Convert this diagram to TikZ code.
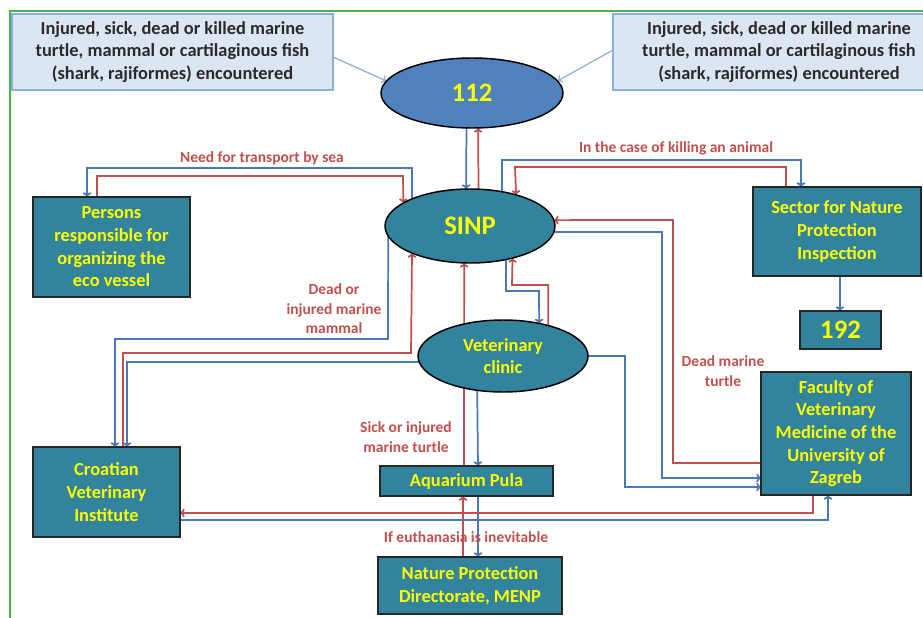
\documentclass[tikz,border=0pt]{standalone}
\usepackage{fontspec}
\setmainfont{Carlito}
\usetikzlibrary{arrows.meta,calc,shapes.geometric,backgrounds}
\definecolor{tbFill}{HTML}{DCE6F2}
\definecolor{tbBorder}{HTML}{8EAEDB}
\definecolor{tbText}{HTML}{2A2A2A}
\definecolor{tealA}{HTML}{31849B}
\definecolor{blueA}{HTML}{4F81BD}
\definecolor{yel}{HTML}{FFFF00}
\definecolor{lineB}{HTML}{4A78B8}
\definecolor{lineR}{HTML}{C0504D}
\definecolor{lightB}{HTML}{95B3D7}
\definecolor{grn}{HTML}{45B54A}
\tikzset{
  every node/.style={inner sep=0pt, outer sep=0pt},
  wh/.style 2 args={minimum width={#1*0.75pt}, minimum height={#2*0.75pt}},
  topbox/.style={rectangle, draw=tbBorder, fill=tbFill, line width=1.2pt, text=tbText,
    font=\bfseries\fontsize{13.8}{16.9}\selectfont, align=center},
  tealbox/.style={rectangle, draw=black!85, fill=tealA, line width=1.1pt, text=yel,
    font=\bfseries\fontsize{13.8}{17}\selectfont, align=center},
  ell/.style={ellipse, draw=black, line width=1.1pt, text=yel, align=center},
  lab/.style={text=lineR, font=\bfseries\fontsize{11.6}{14.6}\selectfont, align=center},
  tipA/.style={-{To[length=3.5pt,width=6.5pt]}},
  blueln/.style={draw=lineB, line width=1.3pt, tipA},
  redln/.style={draw=lineR, line width=1.3pt, tipA},
  lightln/.style={draw=lightB, line width=1pt, tipA},
}
\begin{document}
\begin{tikzpicture}[x=0.75pt,y=-0.75pt]
\useasboundingbox (0,0) rectangle (923,617);
% nodes
\node[topbox, wh={321}{76}] (boxL) at (172.5,52) {Injured, sick, dead or killed marine\\turtle, mammal or cartilaginous fish\\(shark, rajiformes) encountered};
\node[topbox, wh={332}{76}] (boxR) at (779,52) {Injured, sick, dead or killed marine\\turtle, mammal or cartilaginous fish\\(shark, rajiformes) encountered};
\node[ell, fill=blueA, wh={182}{70}, font=\bfseries\fontsize{20}{22}\selectfont] (i112) at (472,93) {112};
\node[ell, fill=tealA, wh={170}{74}, font=\bfseries\fontsize{20}{22}\selectfont] (sinp) at (470,226) {SINP};
\node[ell, fill=tealA, wh={170}{72}, font=\bfseries\fontsize{13.8}{16.5}\selectfont] (vet) at (503,356) {Veterinary\\clinic};
\node[tealbox, wh={157}{100}] (persons) at (111.5,247) {Persons\\responsible for\\organizing the\\eco vessel};
\node[tealbox, wh={168}{89}] (sector) at (837,231.5) {Sector for Nature\\Protection\\Inspection};
\node[tealbox, wh={81}{38}, font=\bfseries\fontsize{20}{22}\selectfont] (n192) at (840.5,330) {192};
\node[tealbox, wh={150}{123}] (faculty) at (836,433.5) {Faculty of\\Veterinary\\Medicine of the\\University of\\Zagreb};
\node[tealbox, wh={147}{90}] (cvi) at (106.5,492) {Croatian\\Veterinary\\Institute};
\node[tealbox, wh={173}{30}] (aq) at (466.5,481) {Aquarium Pula};
\node[tealbox, wh={184}{57}] (npd) at (470,585.5) {Nature Protection\\Directorate, MENP};
% labels
\node[lab] (l1) at (262,158) {Need for transport by sea};
\node[lab] (l2) at (676,148) {In the case of killing an animal};
\node[lab] (l3) at (334,309) {Dead or\\injured marine\\mammal};
\node[lab] (l4) at (723,371) {Dead marine\\turtle};
\node[lab] (l5) at (406,437) {Sick or injured\\marine turtle};
\node[lab] (l6) at (466,537) {If euthanasia is inevitable};
\begin{pgfonlayer}{background}
\fill[white] (0,0) rectangle (923,617);
\draw[grn, line width=1.8pt] (10,620) -- (10,11) -- (926,11);
% top arrows
\draw[lightln] ($(boxL.east)+(0,5)$) -- (i112.172);
\draw[lightln] ($(boxR.west)+(0,-2)$) -- (i112.8.6);
% 112 <-> SINP
\draw[blueln] (i112.-99.8) -- (sinp.96.2);
\draw[redln] (sinp.77.7) -- (i112.-80.2);
% transport by sea
\draw[blueln] (sinp.155) |- (87,168) -- ($(persons.north west)+(54,0)$);
\draw[redln] ($(persons.north west)+(64,0)$) |- (403,176) -- (sinp.161.2);
% killing an animal
\draw[blueln] (sinp.47) |- (801,160) -- ($(sector.north west)+(48,0)$);
\draw[redln] ($(sector.north west)+(33,0)$) |- (515,167) -- (sinp.34.9);
% sector -> 192
\draw[blueln] ($(sector.south west)+(87,0)$) -- ($(n192.north west)+(40,0)$);
% SINP <-> faculty
\draw[redln] ($(faculty.west)+(0,29.5)$) -| (673,220) -- (sinp.4);
\draw[blueln] (sinp.-4) -| (662,478) -- ($(faculty.west)+(0,44.5)$);
\draw[blueln] (vet.east) -| (625,487) -- ($(faculty.west)+(0,53.5)$);
% SINP <-> vet
\draw[blueln] (sinp.-43.9) |- (539,291) -- (vet.42.2);
\draw[redln] (vet.34.1) |- (512,285) -- (sinp.-37.5);
% SINP <-> croatian
\draw[blueln] (sinp.-173.3) -- (388,339) -| ($(cvi.north west)+(82,0)$);
\draw[redln] ($(cvi.north west)+(90,0)$) |- (411,353) -- (sinp.-155.7);
\draw[blueln] (vet.184.8) -| ($(cvi.north west)+(94,0)$);
% aquarium
\draw[redln] ($(aq.north west)+(84,0)$) -- (sinp.-99.2);
\draw[blueln] (vet.-127.2) -- ($(aq.north west)+(98,0)$);
\draw[blueln] ($(aq.south west)+(98,0)$) -- ($(npd.north west)+(100,0)$);
\draw[redln] ($(npd.north west)+(85,0)$) -- ($(aq.south west)+(83,0)$);
% faculty <-> croatian
\draw[redln] ($(faculty.south west)+(52,0)$) |- ($(cvi.east)+(0,21)$);
\draw[blueln] ($(cvi.east)+(0,28)$) -| ($(faculty.south west)+(67,0)$);
\end{pgfonlayer}
\end{tikzpicture}
\end{document}
